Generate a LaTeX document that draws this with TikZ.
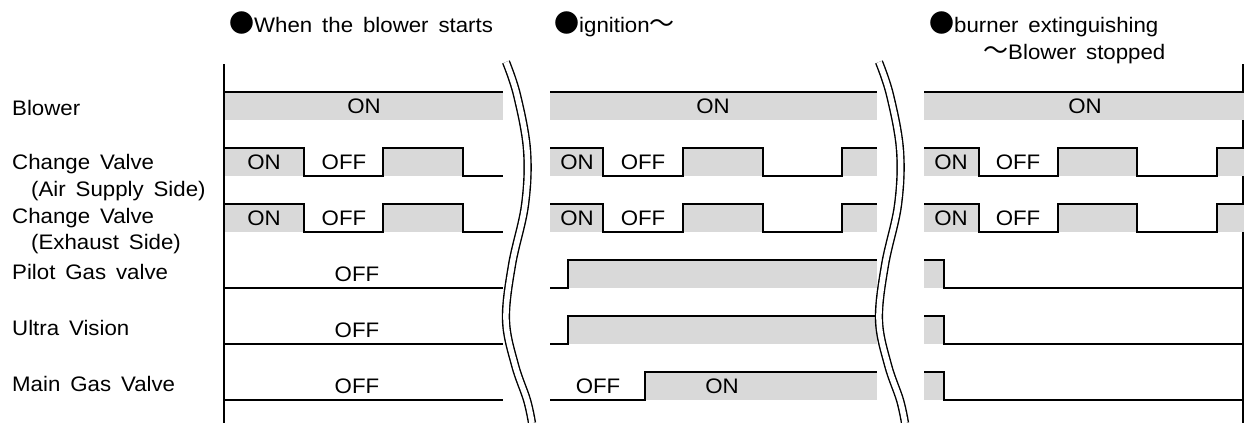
\documentclass[tikz,border=0pt]{standalone}
\usepackage{fontspec}
\setmainfont{Liberation Sans}[FakeStretch=1.06, WordSpace=1.6]
\newfontfamily\cjk{Noto Sans CJK JP}
\newcommand\cjkmark[1]{{\cjk\fontsize{25}{26}\selectfont #1}}
\definecolor{bandgray}{RGB}{217,217,217}

\begin{document}
\begin{tikzpicture}[x=1pt, y=-1pt,
  every node/.style={inner sep=0pt, font=\fontsize{21}{24}\selectfont},
  rowlabel/.style={anchor=base west},
  header/.style={anchor=base west},
  state/.style={anchor=base},
  sig/.style={line width=2.6pt, line join=miter},
  axisline/.style={line width=2.8pt},
  band/.style={fill=bandgray},
  breakline/.style={line width=1.4pt, double=white, double distance=5.5pt}]

\useasboundingbox (0,0) rectangle (1245,423);

% ---- section headers ----
\node[header] (h1) at (229,32) {\cjkmark{●}When the blower starts};
\node[header] (h2) at (554,32) {\cjkmark{●}ignition\cjkmark{～}};
\node[header] (h3) at (929,32) {\cjkmark{●}burner extinguishing};
\node[header] (h3b) at (983,59) {\cjkmark{～}Blower stopped};

% ---- signal names ----
\node[rowlabel] (lblower) at (12,115) {Blower};
\node[rowlabel] (lcva)    at (12,169) {Change Valve};
\node[rowlabel] (lcvas)   at (31,196) {(Air Supply Side)};
\node[rowlabel] (lcve)    at (12,223) {Change Valve};
\node[rowlabel] (lcves)   at (31,249) {(Exhaust Side)};
\node[rowlabel] (lpilot)  at (12,279) {Pilot Gas valve};
\node[rowlabel] (luv)     at (12,335) {Ultra Vision};
\node[rowlabel] (lmain)   at (12,391) {Main Gas Valve};

% ---- time axes ----
\coordinate (axL0) at (224,64);  \coordinate (axL1) at (224,423);
\coordinate (axR0) at (1243,64); \coordinate (axR1) at (1243,423);
\draw[axisline] (axL0) -- (axL1);
\draw[axisline] (axR0) -- (axR1);

% ---- Blower: ON throughout ----
\foreach \a/\b in {225/503, 550/877, 924/1244} {
  \fill[band] (\a,92) rectangle (\b,120);
  \draw[sig] (\a,92) -- (\b,92);
}
\node[state] (bon1) at (364,113) {ON};
\node[state] (bon2) at (713,113) {ON};
\node[state] (bon3) at (1085,113) {ON};

% ---- Change valves (air supply side, exhaust side) ----
\foreach \t/\n in {148/a, 204/e} {
  \pgfmathsetmacro{\bt}{\t+28}
  % before ignition
  \fill[band] (225,\t) rectangle (304,\bt);
  \fill[band] (383,\t) rectangle (463,\bt);
  \draw[sig] (225,\t) -- (304,\t) -- (304,\bt) -- (383,\bt) -- (383,\t)
             -- (463,\t) -- (463,\bt) -- (503,\bt);
  % ignition
  \fill[band] (550,\t) rectangle (603,\bt);
  \fill[band] (683,\t) rectangle (763,\bt);
  \fill[band] (842,\t) rectangle (877,\bt);
  \draw[sig] (550,\t) -- (603,\t) -- (603,\bt) -- (683,\bt) -- (683,\t)
             -- (763,\t) -- (763,\bt) -- (842,\bt) -- (842,\t) -- (877,\t);
  % extinguishing
  \fill[band] (924,\t) rectangle (979,\bt);
  \fill[band] (1058,\t) rectangle (1137,\bt);
  \fill[band] (1217,\t) rectangle (1244,\bt);
  \draw[sig] (924,\t) -- (979,\t) -- (979,\bt) -- (1058,\bt) -- (1058,\t)
             -- (1137,\t) -- (1137,\bt) -- (1217,\bt) -- (1217,\t) -- (1244,\t);
  % state names
  \node[state] (cv\n on1)  at (264,\t+21) {ON};
  \node[state] (cv\n off1) at (344,\t+21) {OFF};
  \node[state] (cv\n on2)  at (577,\t+21) {ON};
  \node[state] (cv\n off2) at (643,\t+21) {OFF};
  \node[state] (cv\n on3)  at (951,\t+21) {ON};
  \node[state] (cv\n off3) at (1018,\t+21) {OFF};
}

% ---- Pilot gas valve, ultra vision, main gas valve ----
\foreach \t/\rise/\n in {260/568/p, 316/568/u, 372/645/m} {
  \pgfmathsetmacro{\bt}{\t+28}
  \draw[sig] (225,\bt) -- (503,\bt);
  \node[state] (\n off1) at (357,\t+21) {OFF};
  \fill[band] (\rise,\t) rectangle (877,\bt);
  \draw[sig] (550,\bt) -- (\rise,\bt) -- (\rise,\t) -- (877,\t);
  \fill[band] (924,\t) rectangle (944,\bt);
  \draw[sig] (924,\t) -- (944,\t) -- (944,\bt) -- (1244,\bt);
}
\node[state] (moff2) at (598,393) {OFF};
\node[state] (mon2)  at (722,393) {ON};

% ---- time breaks ----
\foreach \dx in {0,373} {
  \draw[breakline, shift={(\dx,0)}] plot[smooth, tension=0.6] coordinates
    {(506,62) (517,95) (527,150) (525,205) (512,265) (506,320) (515,365) (527,400) (532,423)};
}
\end{tikzpicture}
\end{document}
